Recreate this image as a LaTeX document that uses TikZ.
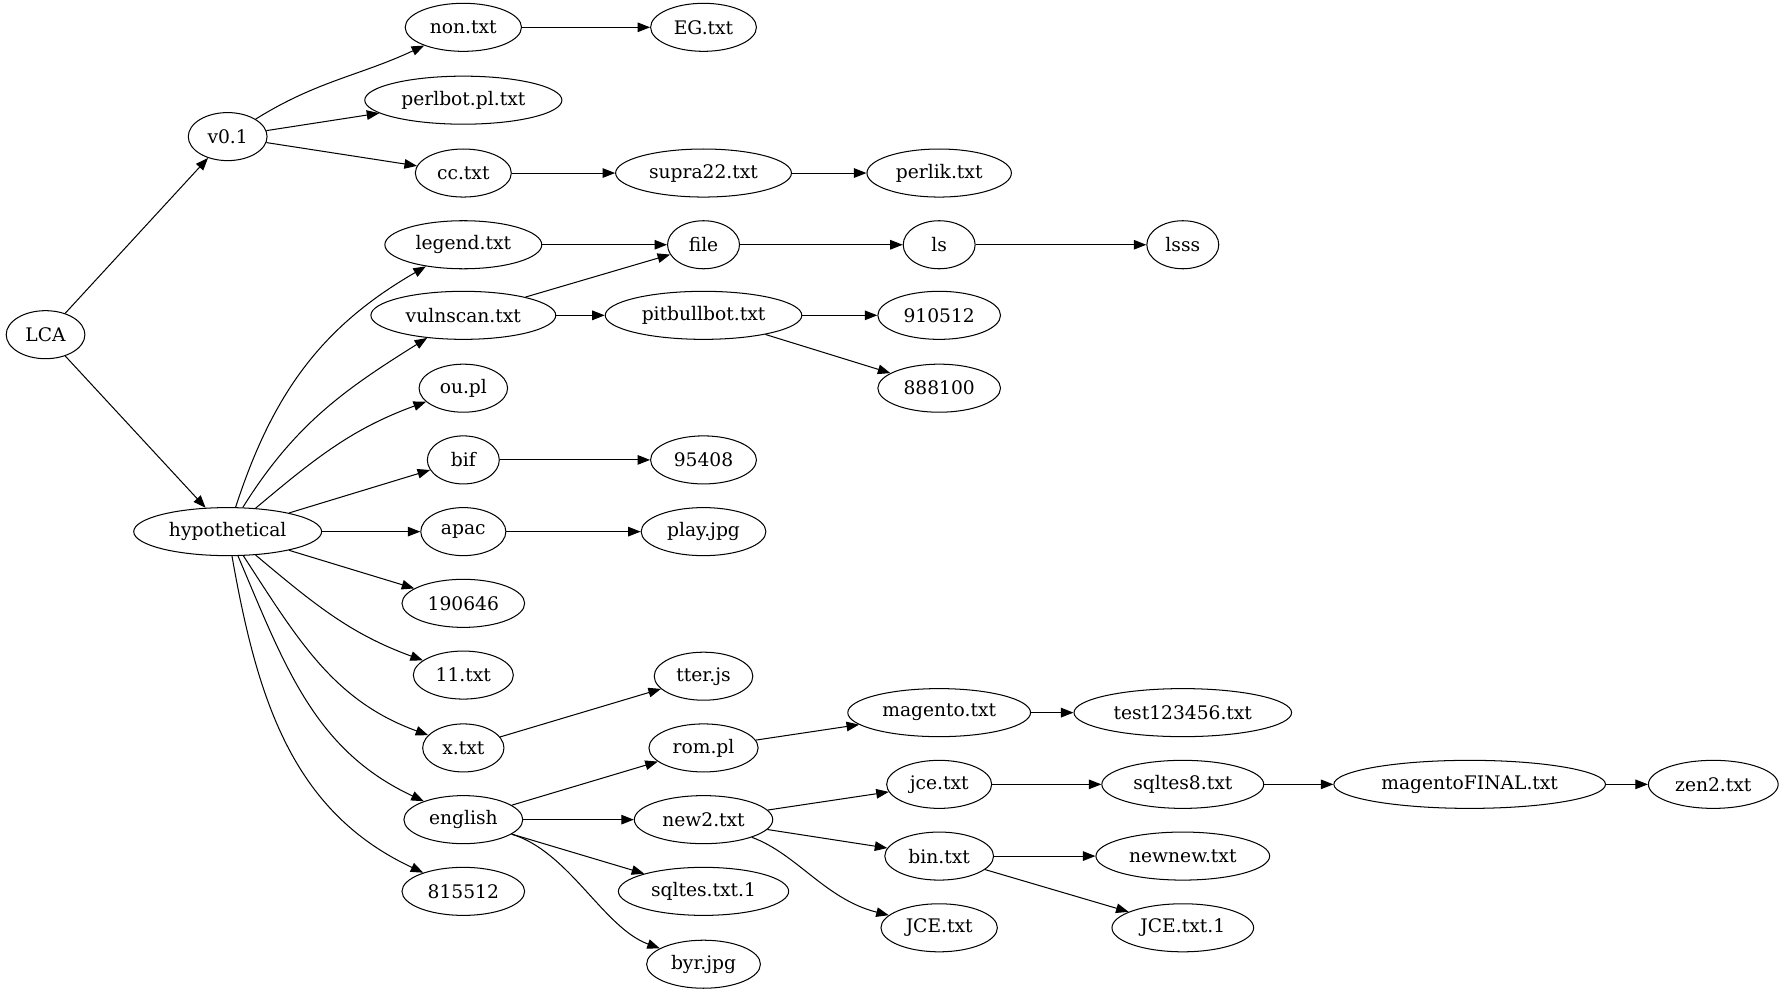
\documentclass[tikz,border=0pt]{standalone}
\usepackage{fontspec}
\setmainfont{DejaVu Serif}
\usetikzlibrary{shapes.geometric,arrows.meta}
\colorlet{node edge}{black}
\tikzset{entry/.style={ellipse, draw=node edge, line width=0.9pt, inner xsep=6.8pt, inner ysep=4.6pt,
        minimum height=42.2pt, minimum width=63.2pt, font=\fontsize{16.4}{19.7}\selectfont},
      link/.style={draw=node edge, line width=0.9pt, -{Triangle[length=11pt,width=8.4pt]}}}

\begin{document}
\begin{tikzpicture}[x=1pt,y=-1pt]
\useasboundingbox (0,0) rectangle (1568,874);
    \node[entry] (lca) at (40,294) {LCA};
    \node[entry] (vzero) at (200,120) {v0.1};
    \node[entry] (hyp) at (200,467) {hypothetical};
    % second column
    \node[entry] (non) at (407,24) {non.txt};
    \node[entry] (perlbot) at (407,88) {perlbot.pl.txt};
    \node[entry] (cc) at (407,152) {cc.txt};
    \node[entry] (legend) at (407,215) {legend.txt};
    \node[entry] (vulnscan) at (407,277) {vulnscan.txt};
    \node[entry] (oupl) at (407,341) {ou.pl};
    \node[entry] (bif) at (407,404) {bif};
    \node[entry] (apac) at (407,467) {apac};
    \node[entry] (n190646) at (407,530) {190646};
    \node[entry] (eleven) at (407,593) {11.txt};
    \node[entry] (xtxt) at (407,657) {x.txt};
    \node[entry] (english) at (407,720) {english};
    \node[entry] (n815512) at (407,783) {815512};
    % third column
    \node[entry] (eg) at (618,24) {EG.txt};
    \node[entry] (supra) at (618,152) {supra22.txt};
    \node[entry] (file) at (618,215) {file};
    \node[entry] (pitbull) at (618,277) {pitbullbot.txt};
    \node[entry] (n95408) at (618,404) {95408};
    \node[entry] (play) at (618,467) {play.jpg};
    \node[entry] (tter) at (618,594) {tter.js};
    \node[entry] (rompl) at (618,657) {rom.pl};
    \node[entry] (newtwo) at (618,720) {new2.txt};
    \node[entry] (sqltesone) at (618,783) {sqltes.txt.1};
    \node[entry] (byr) at (618,847) {byr.jpg};
    % fourth column
    \node[entry] (perlik) at (825,152) {perlik.txt};
    \node[entry] (ls) at (825,215) {ls};
    \node[entry] (n910512) at (825,277) {910512};
    \node[entry] (n888100) at (825,341) {888100};
    \node[entry] (magento) at (825,626) {magento.txt};
    \node[entry] (jce) at (825,689) {jce.txt};
    \node[entry] (bin) at (825,752) {bin.txt};
    \node[entry] (jceup) at (825,815) {JCE.txt};
    % rest
    \node[entry] (lsss) at (1039,215) {lsss};
    \node[entry] (test) at (1039,626) {test123456.txt};
    \node[entry] (sqltes8) at (1039,689) {sqltes8.txt};
    \node[entry] (newnew) at (1039,752) {newnew.txt};
    \node[entry] (jceone) at (1039,815) {JCE.txt.1};
    \node[entry] (magfinal) at (1291,689) {magentoFINAL.txt};
    \node[entry] (zen) at (1505,689) {zen2.txt};

    \draw[link] (lca) -- (vzero);
    \draw[link] (lca) -- (hyp);
    \draw[link] (vzero) to[out=32,in=205] (non);
    \draw[link] (vzero) -- (perlbot);
    \draw[link] (vzero) -- (cc);
    \draw[link] (non) -- (eg);
    \draw[link] (cc) -- (supra);
    \draw[link] (supra) -- (perlik);
    \draw[link] (hyp) to[out=72,in=210] (legend);
    \draw[link] (hyp) to[out=58,in=212] (vulnscan);
    \draw[link] (hyp) to[out=40,in=200] (oupl);
    \draw[link] (hyp) -- (bif);
    \draw[link] (hyp) -- (apac);
    \draw[link] (hyp) -- (n190646);
    \draw[link] (hyp) to[out=-40,in=160] (eleven);
    \draw[link] (hyp) to[out=-57,in=160] (xtxt);
    \draw[link] (hyp) to[out=-67,in=155] (english);
    \draw[link] (hyp) to[out=-80,in=155] (n815512);
    \draw[link] (legend) -- (file);
    \draw[link] (vulnscan) -- (file);
    \draw[link] (vulnscan) -- (pitbull);
    \draw[link] (file) -- (ls);
    \draw[link] (ls) -- (lsss);
    \draw[link] (pitbull) -- (n910512);
    \draw[link] (pitbull) -- (n888100);
    \draw[link] (bif) -- (n95408);
    \draw[link] (apac) -- (play);
    \draw[link] (xtxt) -- (tter);
    \draw[link] (english) -- (rompl);
    \draw[link] (english) -- (newtwo);
    \draw[link] (english) -- (sqltesone);
    \draw[link] (english) .. controls (500,748) and (530,815) .. (byr);
    \draw[link] (rompl) -- (magento);
    \draw[link] (magento) -- (test);
    \draw[link] (newtwo) -- (jce);
    \draw[link] (newtwo) -- (bin);
    \draw[link] (newtwo) .. controls (700,750) and (725,790) .. (jceup);
    \draw[link] (jce) -- (sqltes8);
    \draw[link] (sqltes8) -- (magfinal);
    \draw[link] (magfinal) -- (zen);
    \draw[link] (bin) -- (newnew);
    \draw[link] (bin) -- (jceone);
\end{tikzpicture}
\end{document}
